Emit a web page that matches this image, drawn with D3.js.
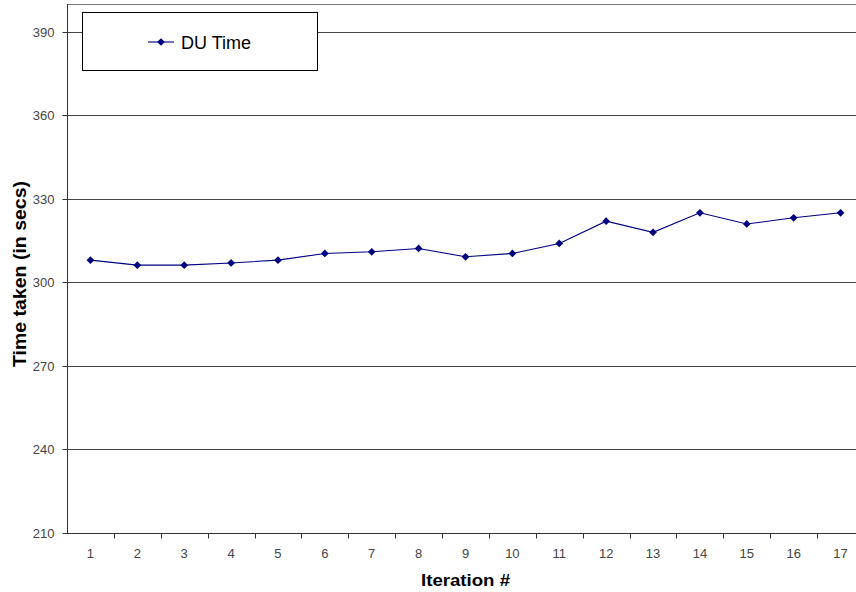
<!DOCTYPE html>
<html>
<head>
<meta charset="utf-8">
<script src="https://cdn.jsdelivr.net/npm/d3@7"></script>
<style>
  html, body { margin: 0; padding: 0; background: #fff; }
  svg { display: block; font-family: Arial, "Liberation Sans", sans-serif; }
</style>
</head>
<body>
<svg id="chart" width="856" height="592"></svg>
<script>
// Iterations and measured DU time per run
const iterations = [1, 2, 3, 4, 5, 6, 7, 8, 9, 10, 11, 12, 13, 14, 15, 16, 17];
const duTime = [308, 306.2, 306.2, 307, 308, 310.4, 311, 312.2, 309.2, 310.4, 314, 322, 318, 325, 321, 323.2, 325];
const yTicks = [210, 240, 270, 300, 330, 360, 390];
const seriesName = "DU Time";

const svg = d3.select("#chart");
const plotLeft = 67, plotRight = 864, plotTop = 4, plotBottom = 533;

const x = d3.scaleBand().domain(iterations).range([plotLeft, plotRight]);
const y = d3.scaleLinear().domain([210, 400]).range([plotBottom, plotTop]);

// Plot area border (top and right run past the visible edge)
svg.append("line")
  .attr("x1", plotLeft).attr("x2", plotRight)
  .attr("y1", plotTop + 0.5).attr("y2", plotTop + 0.5)
  .attr("stroke", "#777").attr("stroke-width", 1);

// Horizontal gridlines
svg.append("g")
  .selectAll("line")
  .data(yTicks.filter(d => d !== 210))
  .join("line")
  .attr("x1", plotLeft).attr("x2", plotRight)
  .attr("y1", d => Math.round(y(d)) + 0.5)
  .attr("y2", d => Math.round(y(d)) + 0.5)
  .attr("stroke", "#444").attr("stroke-width", 1);

// Y axis
const yAxis = d3.axisLeft(y).tickValues(yTicks).tickSize(5).tickPadding(8).tickSizeOuter(0);
const gy = svg.append("g")
  .attr("transform", `translate(${plotLeft + 0.5},0)`)
  .call(yAxis);
gy.select(".domain").attr("stroke", "#333").attr("d", `M0,${plotTop}V${plotBottom}`);
gy.selectAll(".tick line").attr("stroke", "#333");
gy.selectAll(".tick text").attr("font-size", 13).attr("fill", "#444")
  .attr("font-family", "Arial, 'Liberation Sans', sans-serif");
gy.selectAll(".tick").attr("transform", d => `translate(0,${Math.round(y(d)) + 0.5})`);

// X axis: labels centred in each band, ticks on band boundaries
const gx = svg.append("g").attr("transform", `translate(0,${plotBottom + 0.5})`);
gx.append("line")
  .attr("x1", plotLeft).attr("x2", plotRight)
  .attr("stroke", "#333");
gx.selectAll("line.tk")
  .data(iterations)
  .join("line")
  .attr("class", "tk")
  .attr("x1", d => Math.round(x(d) + x.bandwidth()) + 0.5)
  .attr("x2", d => Math.round(x(d) + x.bandwidth()) + 0.5)
  .attr("y1", 0).attr("y2", 5)
  .attr("stroke", "#333");
gx.selectAll("text")
  .data(iterations)
  .join("text")
  .attr("x", d => x(d) + x.bandwidth() / 2)
  .attr("y", 24.5)
  .attr("text-anchor", "middle")
  .attr("font-size", 13)
  .attr("fill", "#444")
  .text(d => d);

// Axis titles
svg.append("text")
  .attr("x", 421).attr("y", 586)
  .attr("font-size", 16).attr("font-weight", "bold")
  .attr("textLength", 89).attr("lengthAdjust", "spacingAndGlyphs")
  .text("Iteration #");
svg.append("text")
  .attr("transform", "translate(26,367) rotate(-90)")
  .attr("font-size", 18.5).attr("font-weight", "bold")
  .attr("textLength", 186).attr("lengthAdjust", "spacingAndGlyphs")
  .text("Time taken (in secs)");

// Data line and diamond markers
const cx = d => x(d) + x.bandwidth() / 2;
const line = d3.line().x((d, i) => cx(iterations[i])).y(d => y(d));
svg.append("path")
  .datum(duTime)
  .attr("d", line)
  .attr("fill", "none")
  .attr("stroke", "#000080")
  .attr("stroke-width", 1.1);

// Diamond marker: a square turned 45 degrees
const diamond = d3.symbol().type(d3.symbolSquare).size(30);
svg.append("g")
  .selectAll("path")
  .data(duTime)
  .join("path")
  .attr("d", diamond)
  .attr("transform", (d, i) => `translate(${cx(iterations[i])},${y(d)}) rotate(45)`)
  .attr("fill", "#000080");

// Legend
const lg = svg.append("g");
lg.append("rect")
  .attr("x", 82.5).attr("y", 12.5)
  .attr("width", 235).attr("height", 58)
  .attr("fill", "#fff").attr("stroke", "#000").attr("stroke-width", 1);
lg.append("line")
  .attr("x1", 148).attr("x2", 174)
  .attr("y1", 42).attr("y2", 42)
  .attr("stroke", "#000080").attr("stroke-width", 1.1);
lg.append("path")
  .attr("d", diamond)
  .attr("transform", "translate(161,42) rotate(45)")
  .attr("fill", "#000080");
lg.append("text")
  .attr("x", 181).attr("y", 49)
  .attr("font-size", 18)
  .text(seriesName);
</script>
</body>
</html>
